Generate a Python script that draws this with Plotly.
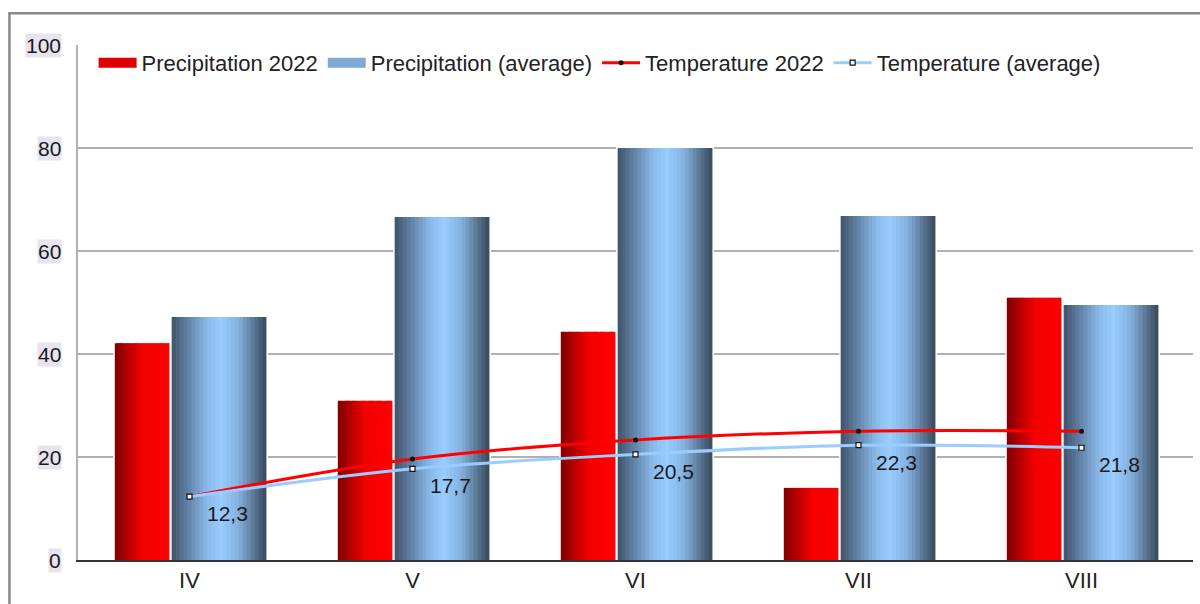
import plotly.graph_objects as go

# ---- data ----
months = ["IV", "V", "VI", "VII", "VIII"]
precip_2022 = [42.1, 30.9, 44.3, 14.0, 50.9]
precip_avg = [47.2, 66.6, 80.0, 66.8, 49.5]
temp_2022 = [12.3, 19.6, 23.3, 25.0, 25.0]
temp_avg = [12.3, 17.7, 20.5, 22.3, 21.8]
y_tick_vals = [0, 20, 40, 60, 80, 100]
y_tick_labels = ["0", "20", "40", "60", "80", "100"]
series_names = ["Precipitation 2022", "Precipitation (average)",
                "Temperature 2022", "Temperature (average)"]

FONT = "Liberation Sans, Arial, sans-serif"
FS = 21
FS_LEG = 22


def hex2rgb(h):
    h = h.lstrip("#")
    return tuple(int(h[i:i + 2], 16) for i in (0, 2, 4))


def grad(stops, t):
    for (t0, c0), (t1, c1) in zip(stops, stops[1:]):
        if t0 <= t <= t1:
            a = (t - t0) / (t1 - t0) if t1 > t0 else 0
            r0, g0, b0 = hex2rgb(c0)
            r1, g1, b1 = hex2rgb(c1)
            return "rgb(%d,%d,%d)" % (round(r0 + (r1 - r0) * a),
                                      round(g0 + (g1 - g0) * a),
                                      round(b0 + (b1 - b0) * a))
    return stops[-1][1]


red_stops = [(0, "#800000"), (0.5, "#f20000"), (1, "#ff0000")]
blue_stops = [(0, "#3f536b"), (0.38, "#8bbbec"), (0.52, "#99ccff"),
              (0.7, "#85b2e0"), (1, "#384859")]

fig = go.Figure()

N = 24


def add_gradient_bars(values, offset, width, stops, name, rank, legend_color):
    # white outline underneath
    fig.add_trace(go.Bar(x=months, y=values, offset=offset, width=width,
                         marker=dict(color="white", line=dict(color="white", width=3)),
                         showlegend=False, hoverinfo="skip"))
    step = width / N
    for i in range(N):
        t = (i + 0.5) / N
        w = step * 1.6 if i < N - 1 else step
        fig.add_trace(go.Bar(x=months, y=values, offset=offset + i * step, width=w,
                             marker=dict(color=grad(stops, t), line=dict(width=0)),
                             showlegend=False, hoverinfo="skip" if i else None,
                             name=name))
    # legend entry (wide rectangular swatch)
    fig.add_trace(go.Scatter(x=[None], y=[None], name=name, mode="lines",
                             line=dict(color=legend_color, width=12),
                             legendrank=rank, showlegend=True, hoverinfo="skip"))


add_gradient_bars(precip_2022, -0.335, 0.245, red_stops, series_names[0], 1, "#e00000")
add_gradient_bars(precip_avg, -0.08, 0.425, blue_stops, series_names[1], 2, "#7fa8d4")

fig.add_trace(go.Scatter(
    x=months, y=temp_2022, name=series_names[2], mode="lines+markers",
    line=dict(color="#ff0000", width=3, shape="spline"),
    marker=dict(symbol="circle", size=5, color="#111"),
    legendrank=3))

fig.add_trace(go.Scatter(
    x=months, y=temp_avg, name=series_names[3], mode="lines+markers",
    line=dict(color="#99ccff", width=3, shape="spline"),
    marker=dict(symbol="square", size=5, color="white", line=dict(color="#111", width=1.2)),
    legendrank=4))

annotations = [dict(x=0, xref="paper", y=v, yref="y", text=lab, showarrow=False,
                    xanchor="right", yanchor="middle", xshift=-16,
                    font=dict(family=FONT, size=FS, color="#1a1a1a"),
                    bgcolor="#e8e4ef", borderpad=0)
               for v, lab in zip(y_tick_vals, y_tick_labels)]

# data labels of the average temperature
annotations += [dict(x=m, xref="x", y=v, yref="y",
                     text=("%.1f" % v).replace(".", ","), showarrow=False,
                     xanchor="left", yanchor="middle", xshift=15, yshift=-17,
                     font=dict(family=FONT, size=FS, color="#1a1a1a"))
                for m, v in zip(months, temp_avg)]

fig.update_layout(
    width=1200, height=604,
    margin=dict(l=78, r=7, t=45, b=44),
    paper_bgcolor="white", plot_bgcolor="white",
    barmode="overlay",
    font=dict(family=FONT, size=FS, color="#222"),
    showlegend=True,
    legend=dict(orientation="h", x=0.014, y=1.006, xanchor="left", yanchor="top",
                bgcolor="rgba(0,0,0,0)", font=dict(family=FONT, size=FS_LEG, color="#222"),
                itemwidth=38, itemclick=False),
    xaxis=dict(type="category", range=[-0.5, 4.5], showline=True, linecolor="#333",
               linewidth=1.5, ticks="", showgrid=False,
               tickfont=dict(family=FONT, size=22, color="#222")),
    yaxis=dict(range=[0, 100], tickvals=y_tick_vals[:-1], showticklabels=False,
               showgrid=True, gridcolor="#b0b0b0", gridwidth=1.5, zeroline=False,
               showline=True, linecolor="#b0b0b0", linewidth=1.5),
    annotations=annotations,
    shapes=[dict(type="rect", xref="paper", yref="paper",
                 x0=-0.0615, x1=1.2, y0=-0.3, y1=1.0615,
                 line=dict(color="#8a8a8a", width=2.5), fillcolor="rgba(0,0,0,0)",
                 layer="below")],
)

fig.write_html("out.html")
